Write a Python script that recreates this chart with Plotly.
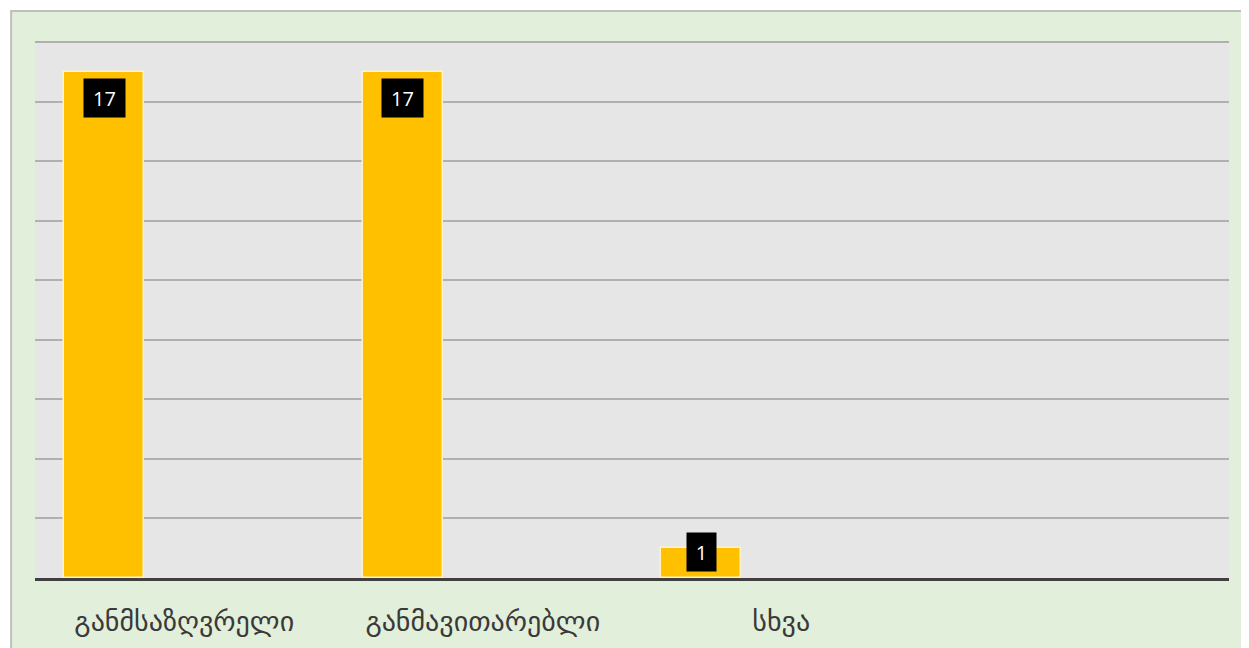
import plotly.graph_objects as go

# ---- data ----
categories = ["განმსაზღვრელი", "განმავითარებლი", "სხვა"]
axis_categories = categories + [" "]
values = [17, 17, 1]
y_max = 18
y_step = 2

# ---- style ----
bar_color = "#FFC000"
bar_width = 0.268
bar_offset = -0.402
label_yshift = [-26, -26, -4]

fig = go.Figure()
fig.add_trace(go.Bar(
    x=categories, y=values,
    width=bar_width, offset=bar_offset,
    marker=dict(color=bar_color, line=dict(color="#FFF2CC", width=1.5)),
    hoverinfo="skip",
))

label_x = [i + bar_offset + bar_width / 2 for i in range(len(categories))]
for xi, v, ys in zip(label_x, values, label_yshift):
    fig.add_annotation(
        x=xi, y=v, xref="x", yref="y", text=str(v), showarrow=False,
        yanchor="middle", yshift=ys,
        font=dict(family="Open Sans", size=20, color="white"),
        bgcolor="black", borderpad=0,
        width=41 if v >= 10 else 29, height=38,
    )

# outer green chart area
fig.add_shape(type="rect", xref="paper", yref="paper",
              x0=-0.02, x1=1.03, y0=-0.2, y1=1.056,
              fillcolor="#E2EFDA", line=dict(color="#BFBFBF", width=2),
              layer="below")
# plot area background
fig.add_shape(type="rect", xref="paper", yref="paper",
              x0=0, x1=1, y0=0, y1=1,
              fillcolor="#E6E6E6", line=dict(width=0),
              layer="below")

fig.update_layout(
    width=1249, height=648,
    margin=dict(l=27, r=28, t=33, b=78),
    paper_bgcolor="white",
    plot_bgcolor="#E6E6E6",
    showlegend=False,
    bargap=0,
    xaxis=dict(
        type="category", categoryorder="array", categoryarray=axis_categories,
        range=[-0.5, len(axis_categories) - 0.5],
        showline=True, linecolor="#404040", linewidth=3,
        ticks="", showgrid=False,
        tickfont=dict(family="DejaVu Sans", size=28, color="#3A3A3A"),
        ticklabelstandoff=16,
    ),
    yaxis=dict(
        range=[0, y_max + 0.04], dtick=y_step, showticklabels=False,
        gridcolor="#B0B0B0", gridwidth=1.5, zeroline=False,
    ),
)

fig.write_html("out.html")
